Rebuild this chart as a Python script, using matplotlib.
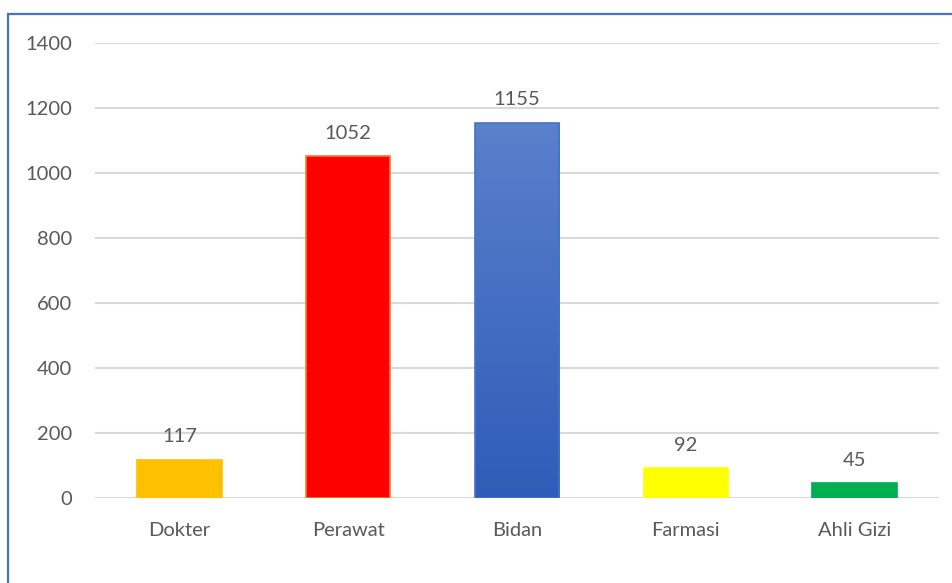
import numpy as np
import matplotlib.pyplot as plt
from matplotlib.patches import Rectangle
from matplotlib.colors import LinearSegmentedColormap

categories = ['Dokter', 'Perawat', 'Bidan', 'Farmasi', 'Ahli Gizi']
values = [117, 1052, 1155, 92, 45]
colors = ['#FFC000', '#FF0000', '#4472C4', '#FFFF00', '#00B050']
edges = ['#FFC000', '#ED7D31', '#4472C4', '#FFFF00', '#00B050']
yticks = [0, 200, 400, 600, 800, 1000, 1200, 1400]

plt.rcParams['font.family'] = ['Lato', 'DejaVu Sans']
TEXT = '#595959'
FS = 14.5

fig = plt.figure(figsize=(9.53, 5.83), dpi=100)
ax = fig.add_axes([0.0997, 0.1458, 0.8856, 0.7804])

x = np.arange(len(categories))
bars = ax.bar(x, values, width=0.5, color=colors, edgecolor=edges,
              linewidth=1.2, zorder=3)

# gradient fill on the Bidan bar
b = bars[2]
b.set_facecolor('none')
grad = np.linspace(0, 1, 256).reshape(-1, 1)
cmap = LinearSegmentedColormap.from_list('blu', ['#2E5CB8', '#5B80CC'])
im = ax.imshow(grad, cmap=cmap, aspect='auto', origin='lower',
               extent=[b.get_x(), b.get_x() + b.get_width(), 0, b.get_height()],
               zorder=2.9)
im.set_clip_path(b)

for xi, v in zip(x, values):
    ax.annotate(str(v), (xi, v), xytext=(0, 10.5), textcoords='offset points',
                ha='center', va='bottom', fontsize=FS, color=TEXT)

ax.set_xlim(-0.5, len(categories) - 0.5)
ax.set_ylim(0, 1400)
ax.set_yticks(yticks)
ax.set_xticks(x)
ax.set_xticklabels(categories)
ax.grid(axis='y', color='#D9D9D9', linewidth=1.5, zorder=0)
ax.set_axisbelow(True)
for s in ax.spines.values():
    s.set_visible(False)
ax.tick_params(axis='both', length=0, labelsize=FS, colors=TEXT)
ax.tick_params(axis='y', pad=16.5)
ax.tick_params(axis='x', pad=17.5)

# chart border (cropped at right and bottom)
fig.patches.append(Rectangle((8 / 953, -0.1), 1.1, 1 - 14 / 583 + 0.1,
                             transform=fig.transFigure, fill=False,
                             edgecolor='#4472C4', linewidth=1.6))

fig.savefig('out.png', dpi=100, facecolor='white')
